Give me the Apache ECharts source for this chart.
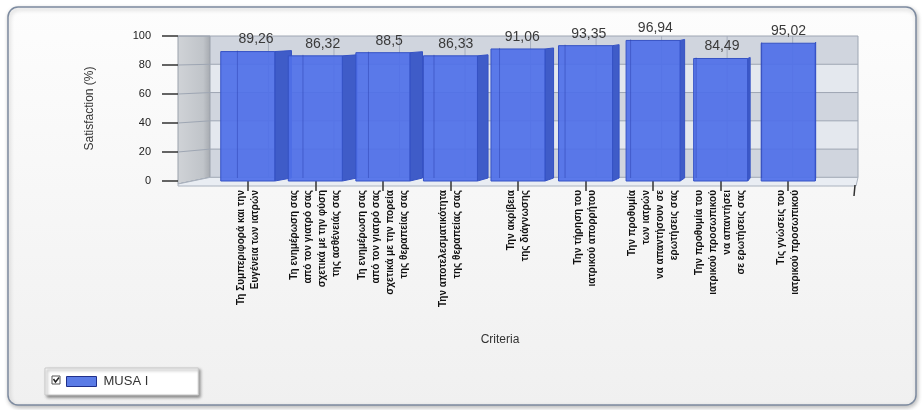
<!DOCTYPE html>
<html>
<head>
<meta charset="utf-8">
<script src="https://cdn.jsdelivr.net/npm/echarts@6/dist/echarts.min.js"></script>
<style>
  html, body { margin: 0; padding: 0; background: #ffffff; }
  #chart { width: 922px; height: 410px; }
</style>
</head>
<body>
<div id="chart"></div>
<script>
// Survey criteria (x axis) and satisfaction scores (%)
const categories = [
  'Τη Συμπεριφορά και την\nΕυγένεια των ιατρών',
  'Τη ενημέρωση σας\nαπό τον γιατρό σας\nσχετικά με την φύση\nτης ασθένειάς σας',
  'Τη ενημέρωση σας\nαπό τον γιατρό σας\nσχετικά με την πορεία\nτης θεραπείας σας',
  'Την αποτελεσματικότητα\nτης θεραπείας σας',
  'Την ακρίβεια\nτης διάγνωσης',
  'Την τήρηση του\nιατρικού απορρήτου',
  'Την προθυμία\nτων ιατρών\nνα απαντήσουν σε\nερωτήσεις σας',
  'Την προθυμία του\nιατρικού προσωπικού\nνα απαντήσει\nσε ερωτήσεις σας',
  'Τις γνώσεις του\nιατρικού προσωπικού'
];
const satisfaction = [89.26, 86.32, 88.5, 86.33, 91.06, 93.35, 96.94, 84.49, 95.02];
const yTicks = [0, 20, 40, 60, 80, 100];
const seriesName = 'MUSA I';
const yAxisTitle = 'Satisfaction (%)';
const xAxisTitle = 'Criteria';

// Colours and pseudo-3D geometry
const FRONT = 'rgba(80,112,232,0.93)';
const SIDE = '#3f5cc8';
const EDGE = '#3552c4';
const VANISH_X = 830;
const DEPTH_RATE = 0.03;
const WALL_FRONT_X = 178;
const WALL_BACK_X = 210;
const WALL_RIGHT_X = 858;
const LABEL_FONT = '"Liberation Sans", Arial, sans-serif';

const fmt = v => String(v).replace('.', ',');

function renderBox(params, api) {
  const idx = api.value(0);
  const val = api.value(1);
  const base = api.coord([idx, 0]);
  const top = api.coord([idx, val]);
  const band = api.size([1, 0])[0];
  const w = band * 0.8;
  const xl = base[0] - w / 2;
  const xr = base[0] + w / 2;
  const dx = Math.max(0, (VANISH_X - xr) * DEPTH_RATE);
  const lift = 3;
  const y0 = base[1];
  const y1 = top[1];
  const gridTop = params.coordSys.y;
  const wallX = base[0] + dx + 4;
  return {
    type: 'group',
    children: [
      { type: 'line', shape: { x1: wallX, y1: gridTop, x2: wallX, y2: y0 - lift },
        style: { stroke: '#a7afbd', lineWidth: 1 } },
      { type: 'polygon', shape: { points: [[xr, y1], [xr + dx, y1 - 1], [xr + dx, y0 - lift], [xr, y0]] },
        style: { fill: SIDE, stroke: EDGE, lineWidth: 1 } },
      { type: 'rect', shape: { x: xl, y: y1, width: w, height: y0 - y1 },
        style: { fill: FRONT, stroke: EDGE, lineWidth: 1 } },
      { type: 'line', shape: { x1: xl + dx, y1: y1 - 1, x2: xl + dx, y2: y0 - lift },
        style: { stroke: 'rgba(40,60,170,0.45)', lineWidth: 1 } },
      { type: 'text', style: { text: fmt(val), x: (xl + xr + dx) / 2, y: y1 - 5,
        align: 'center', verticalAlign: 'bottom', fill: '#3a3a3a',
        font: '14px "Liberation Sans", Arial, sans-serif' } }
    ]
  };
}

const chart = echarts.init(document.getElementById('chart'), null, { renderer: 'canvas' });

const option = {
  animation: false,
  backgroundColor: '#ffffff',
  grid: { left: 214, right: 100, top: 36, bottom: 229 },
  xAxis: {
    type: 'category',
    data: categories,
    z: 5,
    offset: 4,
    axisLine: { show: false },
    axisTick: { show: true, alignWithLabel: true, interval: 0, length: 10,
      lineStyle: { color: '#333', width: 1.5 } },
    axisLabel: {
      interval: 0, rotate: 90, margin: 5,
      fontFamily: LABEL_FONT,
      fontWeight: 'bold', fontSize: 10, lineHeight: 14, color: '#111'
    },
    splitLine: { show: false }
  },
  yAxis: {
    type: 'value',
    min: 0, max: 100, interval: 20,
    offset: 36,
    z: 5,
    name: yAxisTitle,
    nameLocation: 'middle',
    nameRotate: 90,
    nameGap: 82,
    nameTextStyle: { fontFamily: '"Liberation Sans", Arial, sans-serif', fontSize: 12, color: '#333' },
    axisLine: { show: false },
    axisTick: { show: true, length: 16, lineStyle: { color: '#333', width: 1.5 } },
    axisLabel: {
      margin: 27,
      fontFamily: '"Liberation Sans", Arial, sans-serif', fontSize: 11, color: '#222',
      formatter: v => (yTicks.indexOf(v) >= 0 ? String(v) : '')
    },
    splitLine: { show: false }
  },
  legend: {
    left: 45, top: 368,
    padding: [7, 50, 7, 21],
    backgroundColor: '#ffffff',
    borderColor: '#c8c8c8', borderWidth: 1, borderRadius: 0,
    shadowBlur: 3, shadowColor: 'rgba(0,0,0,0.45)', shadowOffsetX: 2, shadowOffsetY: 2,
    itemWidth: 30, itemHeight: 10, itemGap: 8,
    icon: 'rect',
    itemStyle: { color: '#5a7be6', borderColor: '#1f2f8a', borderWidth: 1 },
    textStyle: { fontFamily: '"Liberation Sans", Arial, sans-serif', fontSize: 13, color: '#333', padding: [0, 0, 0, 2] },
    data: [seriesName]
  },
  series: [{
    name: seriesName,
    type: 'custom',
    z: 6,
    itemStyle: { color: '#5a7be6' },
    renderItem: renderBox,
    encode: { x: 0, y: 1 },
    data: satisfaction.map((v, i) => [i, v])
  }]
};

chart.setOption(option);

// Panel, walls and floor are laid out from the axis scale once the chart exists
const yPx = v => chart.convertToPixel({ yAxisIndex: 0 }, v);
const y0 = yPx(0);
const y100 = yPx(100);
const yBack = v => y100 + (yPx(v) - y100) * 0.975;

const graphics = [];
// rounded outer panel
graphics.push({
  type: 'rect', z: -20, silent: true,
  shape: { x: 8, y: 7, width: 908, height: 398, r: 10 },
  style: {
    fill: new echarts.graphic.LinearGradient(0, 0, 0, 1, [
      { offset: 0, color: '#fdfdfd' }, { offset: 1, color: '#f0f0f0' }
    ]),
    stroke: '#7d8ba0', lineWidth: 1.5,
    shadowBlur: 4, shadowColor: 'rgba(0,0,0,0.25)', shadowOffsetX: 1, shadowOffsetY: 2
  }
});
// back wall bands
for (let i = 0; i < yTicks.length - 1; i++) {
  const a = yBack(yTicks[i]);
  const b = yBack(yTicks[i + 1]);
  graphics.push({
    type: 'rect', z: -10, silent: true,
    shape: { x: WALL_BACK_X, y: b, width: WALL_RIGHT_X - WALL_BACK_X, height: a - b },
    style: { fill: (i % 2 === 0) ? '#d0d5de' : '#e4e8ee' }
  });
}
// left wall
graphics.push({
  type: 'polygon', z: -9, silent: true,
  shape: { points: [[WALL_FRONT_X, y100], [WALL_BACK_X, y100], [WALL_BACK_X, yBack(0)], [WALL_FRONT_X, y0 + 3]] },
  style: {
    fill: new echarts.graphic.LinearGradient(0, 0, 1, 0, [
      { offset: 0, color: '#d0d3d7' }, { offset: 0.78, color: '#c0c4c9' }, { offset: 1, color: '#a5a9af' }
    ]),
    stroke: '#9aa1ab', lineWidth: 1
  }
});
// gridlines on both walls
yTicks.forEach(t => {
  const yb = yBack(t);
  graphics.push({
    type: 'polyline', z: -8, silent: true,
    shape: { points: [[WALL_FRONT_X, yPx(t) + (t === 0 ? 3 : 0)], [WALL_BACK_X, yb], [WALL_RIGHT_X, yb]] },
    style: { stroke: '#9ea6b3', lineWidth: 1, fill: null }
  });
});
// right edge of the back wall
graphics.push({
  type: 'line', z: -8, silent: true,
  shape: { x1: WALL_RIGHT_X, y1: y100, x2: WALL_RIGHT_X, y2: yBack(0) },
  style: { stroke: '#9ea6b3', lineWidth: 1 }
});
// floor
graphics.push({
  type: 'polygon', z: -7, silent: true,
  shape: { points: [[WALL_FRONT_X, y0 + 3], [WALL_BACK_X, yBack(0)], [WALL_RIGHT_X, yBack(0)], [WALL_RIGHT_X - 2, y0 + 5], [WALL_FRONT_X, y0 + 5]] },
  style: { fill: '#e9edf3', stroke: '#aab2be', lineWidth: 1 }
});
// closing tick at the end of the category axis
graphics.push({
  type: 'line', z: 5, silent: true,
  shape: { x1: WALL_RIGHT_X - 3, y1: y0 + 4, x2: WALL_RIGHT_X - 4, y2: y0 + 15 },
  style: { stroke: '#333', lineWidth: 1.5 }
});
// x axis title
graphics.push({
  type: 'text', z: 5, silent: true,
  style: { text: xAxisTitle, x: 500, y: 340, align: 'center', verticalAlign: 'middle',
    fill: '#333', font: '12px "Liberation Sans", Arial, sans-serif' }
});
// legend checkbox
graphics.push({
  type: 'rect', z: 20, silent: true,
  shape: { x: 52, y: 376, width: 8, height: 8 },
  style: { fill: '#ffffff', stroke: '#555', lineWidth: 1 }
});
graphics.push({
  type: 'polyline', z: 21, silent: true,
  shape: { points: [[53.5, 379], [55.5, 382], [59, 377.5]] },
  style: { stroke: '#222', lineWidth: 1.5, fill: null }
});

chart.setOption({ graphic: graphics });
</script>
</body>
</html>
